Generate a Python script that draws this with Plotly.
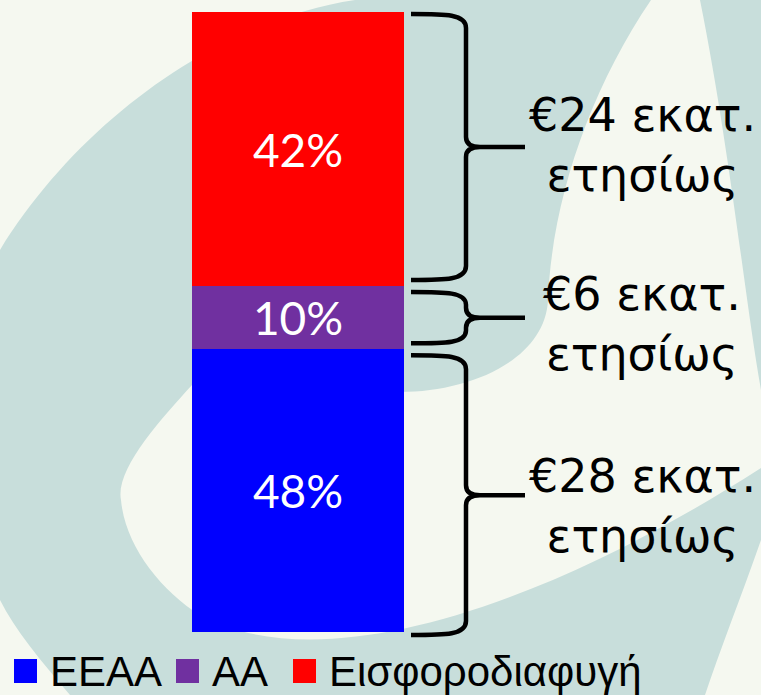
import plotly.graph_objects as go

# ---------------- data ----------------
categories = ["ΕΕΑΑ", "ΑΑ", "Εισφοροδιαφυγή"]
segment_values = [45.6, 10.2, 44.2]          # heights of the stacked segments as drawn
pct_labels = ["48%", "10%", "42%"]
amount_labels = ["€28 εκατ.<br>ετησίως", "€6 εκατ.<br>ετησίως", "€24 εκατ.<br>ετησίως"]
colors = ["#0000ff", "#7030a0", "#ff0000"]

# ---------------- layout constants (pixels) ----------------
W, H = 761, 695
BAR_L, BAR_R, BAR_TOP, BAR_BOT = 192, 404, 12, 632
TEAL = "#c8dedb"
CREAM = "#f5f8f0"

total = sum(segment_values)
ppu = (BAR_BOT - BAR_TOP) / total
y0 = -(H - BAR_BOT) / ppu
y1 = y0 + H / ppu
du = (y1 - y0) / H  # data units per pixel
xr0 = -0.5 - BAR_L / (BAR_R - BAR_L)
xr1 = xr0 + W / (BAR_R - BAR_L)


def px(x):
    return x / W


def py(y):
    return 1 - y / H


def pt(x, y):
    return f"{px(x):.5f},{py(y):.5f}"


fig = go.Figure()
for name, v, lab, c in zip(categories, segment_values, pct_labels, colors):
    fig.add_trace(go.Bar(
        x=[0], y=[v], width=1, name=name, text=[lab],
        textposition="inside", insidetextanchor="middle", constraintext="none",
        textfont=dict(color="white", size=46, family="Lato"),
        marker=dict(color=c, line=dict(width=0)), showlegend=False,
        hoverinfo="skip",
    ))

shapes = []
# ---- background watermark ----
teal_path = (
    f"M {pt(0,250)} C {pt(80,120)} {pt(220,20)} {pt(355,0)} "
    f"L {pt(651,0)} C {pt(590,90)} {pt(552,200)} {pt(548,300)} "
    f"C {pt(545,360)} {pt(470,392)} {pt(400,392)} "
    f"L {pt(192,385)} C {pt(160,420)} {pt(115,470)} {pt(121,500)} "
    f"C {pt(125,545)} {pt(160,590)} {pt(200,615)} "
    f"C {pt(320,680)} {pt(540,610)} {pt(761,468)} "
    f"L {pt(761,540)} C {pt(740,600)} {pt(720,650)} {pt(705,695)} "
    f"L {pt(70,695)} C {pt(40,660)} {pt(15,630)} {pt(0,600)} Z"
)
shapes.append(dict(type="path", xref="paper", yref="paper", path=teal_path,
                   fillcolor=TEAL, line=dict(width=0), layer="below"))
right_band = (
    f"M {pt(700,0)} L {pt(761,0)} L {pt(761,390)} "
    f"C {pt(745,300)} {pt(730,150)} {pt(700,0)} Z"
)
shapes.append(dict(type="path", xref="paper", yref="paper", path=right_band,
                   fillcolor=TEAL, line=dict(width=0), layer="below"))

# ---- braces ----
XL, XV, XT = 411, 466, 525
cum = [0]
for v in segment_values:
    cum.append(cum[-1] + v)
tips = []
n = len(segment_values)
for i in range(n):
    ins_lo = 0 if i == 0 else 6
    ins_hi = 0 if i == n - 1 else 6
    yb = cum[i] + ins_lo * du
    yt = cum[i + 1] - ins_hi * du
    if i == 0:
        yb -= 3 * du
    if i == n - 1:
        yt -= 2 * du
    ym = (yb + yt) / 2
    tips.append(ym)
    hpx = (yt - yb) / du
    r = min(14, hpx / 4) * du
    rt = min(10, hpx / 4) * du
    path = (
        f"M {px(XL):.5f},{yt:.4f} C {px(XV-20):.5f},{yt:.4f} {px(XV):.5f},{yt:.4f} {px(XV):.5f},{yt-r:.4f} "
        f"L {px(XV):.5f},{ym+rt:.4f} Q {px(XV):.5f},{ym:.4f} {px(XV+14):.5f},{ym:.4f} "
        f"L {px(XT):.5f},{ym:.4f} M {px(XV+14):.5f},{ym:.4f} "
        f"Q {px(XV):.5f},{ym:.4f} {px(XV):.5f},{ym-rt:.4f} "
        f"L {px(XV):.5f},{yb+r:.4f} C {px(XV):.5f},{yb:.4f} {px(XV-20):.5f},{yb:.4f} {px(XL):.5f},{yb:.4f}"
    )
    shapes.append(dict(type="path", xref="paper", yref="y", path=path,
                       line=dict(color="black", width=4.5)))

annotations = []
label_shift = [-11, -6, 2]
for lab, ym, sh in zip(amount_labels, tips, label_shift):
    annotations.append(dict(
        x=px(642), xref="paper", y=ym, yref="y", yshift=sh,
        text=lab, showarrow=False, xanchor="center", yanchor="middle", align="center",
        font=dict(family="DejaVu Sans", size=46, color="black"),
    ))

# ---- manual legend ----
LEG_X = [14, 176, 293]
LEG_SQ = 23
LEG_YC = 671
for name, c, lx in zip(categories, colors, LEG_X):
    shapes.append(dict(type="rect", xref="paper", yref="paper",
                       x0=px(lx), x1=px(lx + LEG_SQ), y0=py(LEG_YC + 12), y1=py(LEG_YC - 12),
                       fillcolor=c, line=dict(width=0)))
    annotations.append(dict(
        x=px(lx + LEG_SQ + 11), xref="paper", y=py(LEG_YC), yref="paper",
        text=name, showarrow=False, xanchor="left", yanchor="middle",
        font=dict(family="Liberation Sans", size=42, color="black"),
    ))

fig.update_layout(
    width=W, height=H, margin=dict(l=0, r=0, t=0, b=0, pad=0),
    barmode="stack", bargap=0,
    paper_bgcolor=CREAM, plot_bgcolor="rgba(0,0,0,0)",
    xaxis=dict(range=[xr0, xr1], visible=False, fixedrange=True),
    yaxis=dict(range=[y0, y1], visible=False, fixedrange=True),
    shapes=shapes, annotations=annotations, showlegend=False,
)

fig.write_html("out.html", config={"displayModeBar": False},
               post_script="document.body.style.margin='0';")
